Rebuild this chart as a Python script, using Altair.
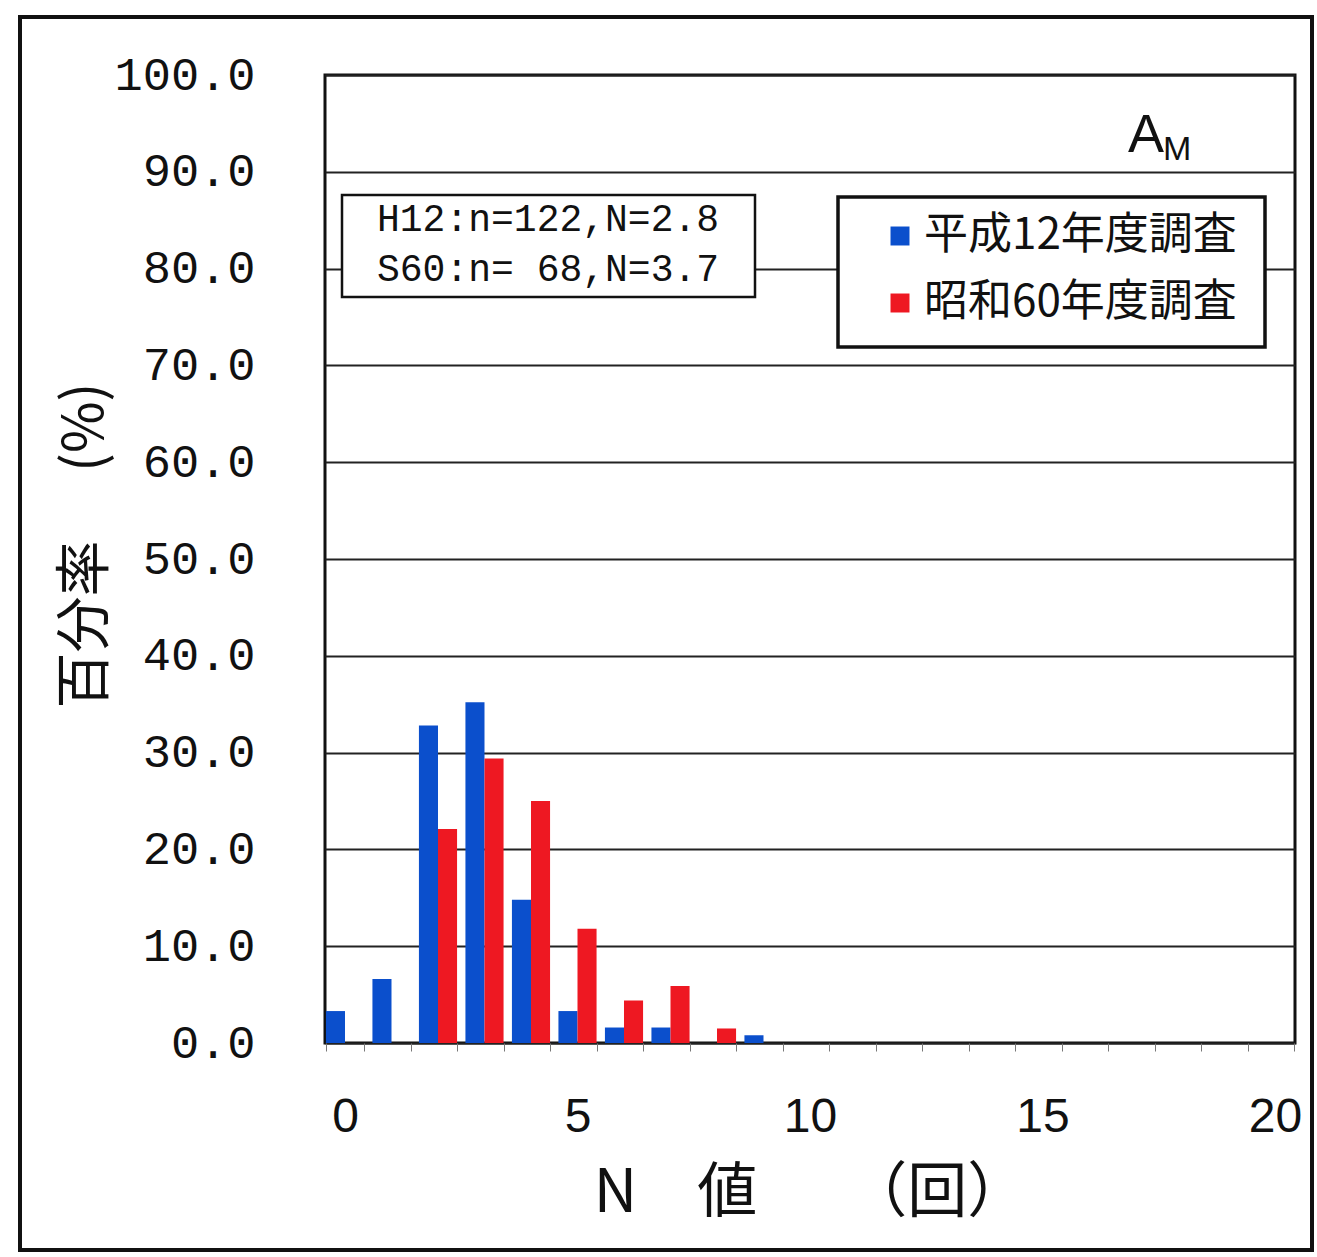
import altair as alt
import pandas as pd

# N-value classes (回) on the horizontal axis
n_values = [0, 1, 2, 3, 4, 5, 6, 7, 8, 9, 10,
            11, 12, 13, 14, 15, 16, 17, 18, 19, 20]

# Share of samples in each class (%)
h12_pct = [3.3, 6.6, 32.8, 35.2, 14.8, 3.3, 1.6, 1.6, 0.0, 0.8, 0.0,
           0.0, 0.0, 0.0, 0.0, 0.0, 0.0, 0.0, 0.0, 0.0, 0.0]
s60_pct = [0.0, 0.0, 22.1, 29.4, 25.0, 11.8, 4.4, 5.9, 1.5, 0.0, 0.0,
           0.0, 0.0, 0.0, 0.0, 0.0, 0.0, 0.0, 0.0, 0.0, 0.0]

series_names = ["平成12年度調査", "昭和60年度調査"]
series_colors = ["#0b4fcc", "#ee1822"]

summary_lines = ["H12:n=122,N=2.8", "S60:n= 68,N=3.7"]
y_ticks = [0, 10, 20, 30, 40, 50, 60, 70, 80, 90, 100]

rows = []
for name, vals in zip(series_names, [h12_pct, s60_pct]):
    for n, v in zip(n_values, vals):
        rows.append({"N": n, "series": name, "pct": v})
df = pd.DataFrame(rows)

W, H = 970, 968
one = alt.Data(values=[{}])

bars = alt.Chart(df).mark_bar().encode(
    x=alt.X(
        "N:O",
        sort=n_values,
        scale=alt.Scale(paddingInner=0.18, paddingOuter=0.02),
        axis=alt.Axis(
            title="N　値　　（回）",
            labelExpr="datum.value % 5 == 0 ? datum.label : ''",
            labelAngle=0,
            tickBand="extent",
            tickSize=8,
            tickColor="#777",
            domain=False,
            labelFont="Liberation Sans",
            labelFontSize=48,
            labelColor="#111",
            labelPadding=42,
            titleFont="Noto Sans CJK JP",
            titleFontSize=60,
            titleFontWeight="normal",
            titleColor="#111",
            titleX=485,
            titleY=150,
            titleBaseline="middle",
        ),
    ),
    xOffset=alt.XOffset("series:N", sort=series_names,
                        scale=alt.Scale(paddingInner=0, paddingOuter=0)),
    y=alt.Y(
        "pct:Q",
        scale=alt.Scale(domain=[0, 100], nice=False),
        axis=alt.Axis(
            title="百分率　 (%)",
            values=y_ticks,
            format=".1f",
            grid=True,
            gridColor="#222",
            gridWidth=2,
            ticks=False,
            domain=False,
            labelFont="Liberation Mono",
            labelFontSize=47,
            labelColor="#111",
            labelPadding=70,
            titleFont="Noto Sans CJK JP",
            titleFontSize=56,
            titleFontWeight="normal",
            titleColor="#111",
            titleAngle=270,
            titleX=-240,
            titleY=470,
            titleAlign="center",
            titleBaseline="middle",
        ),
    ),
    color=alt.Color(
        "series:N",
        sort=series_names,
        scale=alt.Scale(domain=series_names, range=series_colors),
        legend=alt.Legend(
            title=None,
            orient="none",
            legendX=553,
            legendY=139,
            symbolType="square",
            symbolSize=360,
            symbolStrokeWidth=0,
            labelFont="Noto Sans CJK JP",
            labelFontSize=44,
            labelColor="#111",
            labelLimit=0,
            labelOffset=2,
            rowPadding=23,
            padding=0,
        ),
    ),
)

# Outer border around the whole figure
outer = alt.Chart(one).mark_rect(
    fillOpacity=0, stroke="#111", strokeWidth=4
).encode(x=alt.value(-305), x2=alt.value(987),
         y=alt.value(-58), y2=alt.value(1175))

# Box with sample counts and mean N
note_box = alt.Chart(one).mark_rect(
    fill="white", stroke="#111", strokeWidth=2.5
).encode(x=alt.value(17), x2=alt.value(430),
         y=alt.value(120), y2=alt.value(222))

note_layers = [
    alt.Chart(pd.DataFrame({"line": [line]})).mark_text(
        align="left", baseline="middle", font="Liberation Mono",
        fontSize=38, color="#111"
    ).encode(text="line:N", x=alt.value(52), y=alt.value(145 + 50 * i))
    for i, line in enumerate(summary_lines)
]

# Frame behind the legend entries
legend_box = alt.Chart(one).mark_rect(
    fill="white", stroke="#111", strokeWidth=3.5
).encode(x=alt.value(513), x2=alt.value(940),
         y=alt.value(122), y2=alt.value(272))

# Panel label A with subscript M
label_a = alt.Chart(one).mark_text(
    text="A", align="left", baseline="alphabetic",
    font="Liberation Sans", fontSize=54, color="#111"
).encode(x=alt.value(803), y=alt.value(77))
label_m = alt.Chart(one).mark_text(
    text="M", align="left", baseline="alphabetic",
    font="Liberation Sans", fontSize=34, color="#111"
).encode(x=alt.value(838), y=alt.value(85))

chart = alt.layer(
    bars, outer, note_box, *note_layers, legend_box, label_a, label_m
).properties(
    width=W, height=H,
    autosize=alt.AutoSizeParams(type="none"),
    padding={"left": 325, "top": 75, "right": 22, "bottom": 214},
    background="white",
).configure_view(stroke="#111", strokeWidth=3)

chart.save("out.html", embed_options={"renderer": "svg", "actions": False})
